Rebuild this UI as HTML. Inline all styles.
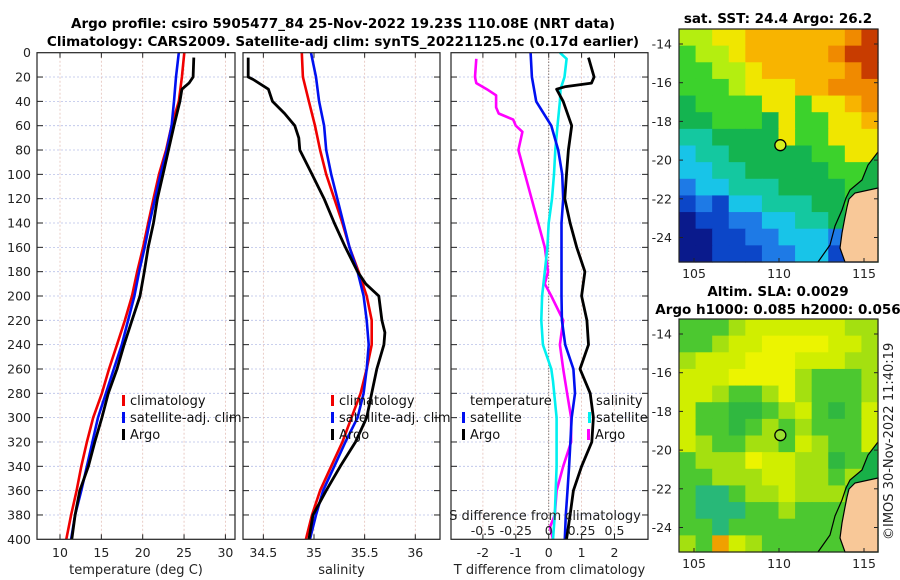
<!DOCTYPE html>
<html><head><meta charset="utf-8"><style>
body{margin:0;background:#fff}
svg{display:block;font-family:"DejaVu Sans","Liberation Sans",sans-serif}
</style></head><body>
<svg id="fig" width="900" height="580" viewBox="0 0 900 580">
<g id="g-titles">
<text x="343" y="28" text-anchor="middle" font-size="13.5" font-weight="bold">Argo profile: csiro 5905477_84 25-Nov-2022 19.23S 110.08E (NRT data)</text>
<text x="343" y="46" text-anchor="middle" font-size="13.5" font-weight="bold">Climatology: CARS2009. Satellite-adj clim: synTS_20221125.nc (0.17d earlier)</text>
<text x="778" y="23" text-anchor="middle" font-size="13.5" font-weight="bold">sat. SST: 24.4 Argo: 26.2</text>
<text x="778" y="296" text-anchor="middle" font-size="13.5" font-weight="bold">Altim. SLA: 0.0029</text>
<text x="778" y="314" text-anchor="middle" font-size="13.5" font-weight="bold">Argo h1000: 0.085 h2000: 0.056</text>
<text transform="translate(893,540) rotate(-90)" font-size="13" fill="#222">©IMOS 30-Nov-2022 11:40:19</text>
</g>
</svg>
<script>
// ---------- data ----------
const depths = [0,20,40,60,80,100,120,140,160,180,200,220,240,260,280,300,320,340,360,380,400];
const tempClim = [25.03,24.74,24.36,23.5,22.83,21.97,21.3,20.67,20.05,19.34,18.71,17.85,16.89,15.93,15.07,14.02,13.25,12.58,12.01,11.34,10.76];
const tempSat = [24.36,24.03,23.79,23.5,22.92,22.16,21.49,20.82,20.24,19.57,19.0,18.23,17.47,16.51,15.55,14.59,13.92,13.25,12.58,11.82,11.34];
const argoTempDepths = [4,20,25,30,40,60,80,100,120,140,160,180,200,220,240,260,280,300,320,340,360,380,400];
const tempArgo = [26.18,26.09,25.6,24.74,24.5,23.79,23.12,22.45,21.78,21.3,20.67,20.19,19.67,18.71,17.75,16.89,15.84,15.07,14.21,13.44,12.39,11.82,11.43];
const salClim = [34.88,34.89,34.95,35.01,35.06,35.12,35.2,35.28,35.35,35.44,35.52,35.57,35.57,35.52,35.46,35.37,35.28,35.17,35.06,34.98,34.92];
const salSat = [34.97,35.02,35.05,35.1,35.12,35.17,35.23,35.29,35.35,35.43,35.49,35.52,35.54,35.52,35.49,35.43,35.31,35.2,35.09,35.02,34.96];
const argoSalDepths = [4,20,22,30,40,50,60,70,80,100,120,140,160,180,190,200,220,230,240,260,280,300,320,340,360,380,400];
const salArgo = [34.35,34.35,34.4,34.55,34.59,34.71,34.81,34.85,34.86,34.98,35.1,35.2,35.31,35.43,35.51,35.64,35.67,35.7,35.69,35.62,35.57,35.52,35.41,35.26,35.12,34.99,34.95];
const tDiffSat = [-0.55,-0.51,-0.38,0.08,0.29,0.41,0.44,0.39,0.39,0.39,0.39,0.4,0.5,0.75,0.8,0.7,0.66,0.62,0.57,0.52,0.49];
const tDiffArgoDepths = [4,20,25,28,30,35,40,60,80,100,120,140,160,180,200,220,240,260,280,300,320,340,360,380,400];
const tDiffArgo = [1.21,1.38,1.3,0.49,0.24,0.34,0.44,0.7,0.6,0.54,0.49,0.65,0.85,1.1,1.0,1.16,1.21,0.95,1.26,1.36,1.31,1.0,0.75,0.65,0.54];
const sDiffSatDepths = [0,5,20,30,40,60,80,100,120,140,160,180,200,220,240,260,270,300,340,380,400];
const sDiffSat = [0.085,0.136,0.12,0.09,0.085,0.067,0.05,0.04,0.025,0.0,-0.01,-0.03,-0.05,-0.056,-0.044,0.02,0.033,0.06,0.06,0.046,0.033];
const sDiffArgoDepths = [5,20,25,30,35,45,50,55,60,65,80,100,120,140,160,180,190,200,220,240,260,280,300,320,340,360,380,390,400];
const sDiffArgo = [-0.55,-0.56,-0.55,-0.47,-0.4,-0.4,-0.38,-0.27,-0.25,-0.2,-0.23,-0.18,-0.13,-0.08,-0.03,-0.005,-0.03,0.02,0.11,0.085,0.11,0.14,0.17,0.17,0.11,0.06,0.046,0.01,0.033];
const depthTicks = [0,20,40,60,80,100,120,140,160,180,200,220,240,260,280,300,320,340,360,380,400];
const tempTicks = [10,15,20,25,30];
const salTicks = [34.5,35,35.5,36];
const tDiffTicks = [-2,-1,0,1,2];
const sDiffTicks = [-0.5,-0.25,0,0.25,0.5];
const sDiffTickLabels = ["-0.5","-0.25","0","0.25","0.5"];
const latTicks = [-14,-16,-18,-20,-22,-24];
const lonTicks = [105,110,115];
// map grids (colour codes per cell)
const sstGrid = ["yyYYooooooOR","GyyYoooooORR","GGyyYoooooOR","GGGyYYYooOOO","gGGGGYYGYYoO","ggGGGgYGGYYo","TTggggYGGYYY","CTTgggggGGYY","CCTTgggggGGG","BCCTTTggggGG","bBbCCTTTggGG","NbbBBCCTTgGG","NNbbBBCCCBgG","NNbbbBBCCbbG"];
const slaGrid = ["GGGLyyyyyyLL","GGLyyYYYYyyL","LyyyYYYyyyLL","yyyYYYYLGGGL","yyLGGLYLGGGL","yGGggGLyGgGy","yGGgGLGLGGGy","yLGGLLGyLGGy","GLLLYyyLLgGG","GGLLLyyLLGLG","GTTGLLyLLLGG","GTTTGGLGGGGG","GGTGGGGGGGGG","LGOyLGGGGGGG"];
const sstColors = {R:"#c83c00",O:"#f08a00",o:"#f8b400",Y:"#f0e600",y:"#b4ee10",G:"#3cd22c",g:"#14b450",T:"#14c8a0",C:"#18c4e8",B:"#1e7ae6",b:"#0c46c8",N:"#0a1a8c"};
const slaColors = {Y:"#ecf400",y:"#d0ee00",L:"#a4e010",G:"#4cc830",g:"#30b840",T:"#28b878",O:"#f0a000"};
const floatLon = 110.08, floatLat = -19.23;

// ---------- helpers ----------
const NS = "http://www.w3.org/2000/svg";
const svg = document.getElementById("fig");
function mk(tag, attrs, parent) {
  const e = document.createElementNS(NS, tag);
  for (const k in attrs) e.setAttribute(k, attrs[k]);
  (parent || svg).appendChild(e);
  return e;
}
const Y0 = 52.7, Y1 = 539.3;
const yD = d => Y0 + (d / 400) * (Y1 - Y0);

const panels = [
  {id:"temperature", x0:37, x1:235, v0:10, p0:60, scale:8.27, ticks:tempTicks, labels:tempTicks.map(String), title:"temperature (deg C)"},
  {id:"salinity", x0:243, x1:440, v0:35, p0:314, scale:101.3, ticks:salTicks, labels:salTicks.map(String), title:"salinity"},
  {id:"difference", x0:451, x1:648, v0:0, p0:548.7, scale:32.9, ticks:tDiffTicks, labels:tDiffTicks.map(String), title:"T difference from climatology"}
];
panels.forEach(p => { p.fx = v => p.p0 + (v - p.v0) * p.scale; });
const sx = v => panels[2].p0 + v * panels[2].scale * 4;

function drawLine(parent, xs, ds, fx, color, w, name) {
  const pts = xs.map((v, i) => fx(v).toFixed(1) + "," + yD(ds[i]).toFixed(1)).join(" ");
  const l = mk("polyline", {points: pts, fill: "none", stroke: color, "stroke-width": w, "stroke-linejoin": "round"}, parent);
  
  
}

panels.forEach(p => {
  const g = mk("g", {});
  
  
  depthTicks.forEach(d => {
    if (d === 0 || d === 400) return;
    const gl = mk("line", {x1:p.x0, x2:p.x1, y1:yD(d), y2:yD(d), stroke:"#b8c0e8", "stroke-width":0.8, "stroke-dasharray":"2,2"}, g);
    
    
    [p.x0, p.x1].forEach((xx, k) => {
      const t = mk("line", {x1:xx, x2:xx + (k ? -6 : 6), y1:yD(d), y2:yD(d), stroke:"#222", "stroke-width":1}, g);
      
      
    });
  });
  p.ticks.forEach((v, i) => {
    const xx = p.fx(v);
    const gl = mk("line", {x1:xx, x2:xx, y1:Y0, y2:Y1, stroke:"#e4c0b8", "stroke-width":0.8, "stroke-dasharray":"2,2"}, g);
    
    
    const t = mk("line", {x1:xx, x2:xx, y1:Y0, y2:Y0 + 5, stroke:"#222"}, g);
    
    
    const t2 = mk("line", {x1:xx, x2:xx, y1:Y1, y2:Y1 - 5, stroke:"#222"}, g);
    
    
    const lb = mk("text", {x:xx, y:557, "text-anchor":"middle", "font-size":12.5, fill:"#222"}, g);
    lb.textContent = p.labels[i];
    
    
  });
  const tt = mk("text", {x:(p.x0 + p.x1) / 2, y:574, "text-anchor":"middle", "font-size":13, fill:"#222"}, g);
  tt.textContent = p.title;
  
  
  p.g = g;
});

depthTicks.forEach(d => {
  const t = mk("text", {x:31, y:yD(d) + 4.5, "text-anchor":"end", "font-size":12.5, fill:"#222"});
  t.textContent = String(d);
  
  
});

{
  const g = panels[2].g;
  const zl = mk("line", {x1:sx(0), x2:sx(0), y1:Y0, y2:Y1, stroke:"#555", "stroke-width":1, "stroke-dasharray":"1,2"}, g);
  
  
}

drawLine(panels[0].g, tempClim, depths, panels[0].fx, "#f00000", 2.6, "temperature-climatology-line");
drawLine(panels[0].g, tempSat, depths, panels[0].fx, "#0010f0", 2.6, "temperature-satellite-line");
drawLine(panels[0].g, tempArgo, argoTempDepths, panels[0].fx, "#000", 2.8, "temperature-argo-line");
drawLine(panels[1].g, salClim, depths, panels[1].fx, "#f00000", 2.6, "salinity-climatology-line");
drawLine(panels[1].g, salSat, depths, panels[1].fx, "#0010f0", 2.6, "salinity-satellite-line");
drawLine(panels[1].g, salArgo, argoSalDepths, panels[1].fx, "#000", 2.8, "salinity-argo-line");
drawLine(panels[2].g, sDiffArgo, sDiffArgoDepths, sx, "#ff00ff", 2.6, "salinity-diff-argo-line");
drawLine(panels[2].g, sDiffSat, sDiffSatDepths, sx, "#00f0f0", 2.6, "salinity-diff-satellite-line");
drawLine(panels[2].g, tDiffSat, depths, panels[2].fx, "#0010f0", 2.6, "temperature-diff-satellite-line");
drawLine(panels[2].g, tDiffArgo, tDiffArgoDepths, panels[2].fx, "#000", 2.8, "temperature-diff-argo-line");

{
  const g = panels[2].g;
  const st = mk("text", {x:545, y:520, "text-anchor":"middle", "font-size":13, fill:"#222"}, g);
  st.textContent = "S difference from climatology";
  
  
  sDiffTicks.forEach((v, i) => {
    const t = mk("text", {x:sx(v), y:535, "text-anchor":"middle", "font-size":12.5, fill:"#222"}, g);
    t.textContent = sDiffTickLabels[i];
    
    
  });
}

panels.forEach(p => {
  const r = mk("rect", {x:p.x0, y:Y0, width:p.x1 - p.x0, height:Y1 - Y0, fill:"none", stroke:"#222", "stroke-width":1.2}, p.g);
  
  
});

function legendEntry(x, y, color, label) {
  const b = mk("rect", {x:x, y:y - 10, width:3, height:11, fill:color});
  
  
  const t = mk("text", {x:x + 8, y:y, "font-size":13, fill:"#111"});
  t.textContent = label;
  
  
}
[[122],[331]].forEach(([x]) => {
  legendEntry(x, 405, "#f00000", "climatology");
  legendEntry(x, 422, "#0010f0", "satellite-adj. clim");
  legendEntry(x, 439, "#000", "Argo");
});
{
  const t = mk("text", {x:470, y:405, "font-size":13, fill:"#111"});
  t.textContent = "temperature";
  
  
  const t2 = mk("text", {x:596, y:405, "font-size":13, fill:"#111"});
  t2.textContent = "salinity";
  
  
  legendEntry(462, 422, "#0010f0", "satellite");
  legendEntry(462, 439, "#000", "Argo");
  legendEntry(588, 422, "#00f0f0", "satellite");
  legendEntry(587, 439, "#ff00ff", "Argo");
}

// ---------- maps ----------
function drawMap(top, grid, colors, dotColor, name) {
  const L = 679, R = 878, B = top + 233;
  const lonX = lon => 694 + (lon - 105) * 17;
  const latY = lat => top + 15 + (-14 - lat) * 19.35;
  const g = mk("g", {});
  
  
  const rows = grid.length, cols = grid[0].length;
  const cw = (R - L) / cols, ch = (B - top) / rows;
  grid.forEach((row, r) => {
    for (let c = 0; c < cols; c++) {
      const cell = mk("rect", {x:(L + c * cw).toFixed(2), y:(top + r * ch).toFixed(2), width:(cw + 0.6).toFixed(2), height:(ch + 0.6).toFixed(2), fill:colors[row[c]]}, g);
      
      
    }
  });
  const o = top - 29;
  const shelf = mk("polygon", {points:`878,${152+o} 868,${165+o} 862,${180+o} 850,${190+o} 846,${198+o} 848,${205+o} 855,${193+o} 878,${188+o}`, fill:"#18b048"}, g);
  
  
  const land = mk("polygon", {points:`878,${188+o} 855,${193+o} 849,${199+o} 847,${207+o} 845,${217+o} 842,${233+o} 840,${248+o} 845,${262+o} 878,${262+o}`, fill:"#f8c898", stroke:"#000", "stroke-width":1.2}, g);
  
  
  const coast = mk("polyline", {points:`878,${152+o} 868,${165+o} 862,${180+o} 850,${190+o} 846,${198+o} 842,${210+o} 835,${226+o} 830,${245+o} 818,${262+o}`, fill:"none", stroke:"#000", "stroke-width":1.2}, g);
  
  
  const dot = mk("circle", {cx:lonX(floatLon), cy:latY(floatLat), r:5.5, fill:dotColor, stroke:"#000", "stroke-width":1.3}, g);
  
  
  const fr = mk("rect", {x:L, y:top, width:R - L, height:B - top, fill:"none", stroke:"#222", "stroke-width":1.2}, g);
  
  
  latTicks.forEach(lat => {
    const yy = latY(lat);
    const t = mk("text", {x:672, y:yy + 4.5, "text-anchor":"end", "font-size":12.5, fill:"#222"}, g);
    t.textContent = String(lat);
    
    
    [L, R].forEach((xx, k) => {
      const tk = mk("line", {x1:xx, x2:xx + (k ? -4 : 4), y1:yy, y2:yy, stroke:"#222"}, g);
      
      
    });
  });
  lonTicks.forEach(lon => {
    const xx = lonX(lon);
    const t = mk("text", {x:xx, y:B + 16, "text-anchor":"middle", "font-size":12.5, fill:"#222"}, g);
    t.textContent = String(lon);
    
    
    const tk = mk("line", {x1:xx, x2:xx, y1:B, y2:B - 4, stroke:"#222"}, g);
    
    
  });
}
drawMap(29, sstGrid, sstColors, "#d4f020", "sst-map");
drawMap(319, slaGrid, slaColors, "#9ade30", "sla-map");
</script>
</body></html>
